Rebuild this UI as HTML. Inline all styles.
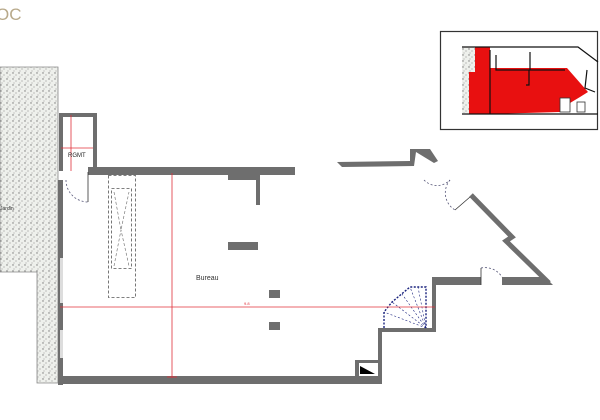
<!DOCTYPE html>
<html><head><style>html,body{margin:0;padding:0;background:#fff;width:600px;height:420px;overflow:hidden}</style></head>
<body>
<svg width="600" height="420" xmlns="http://www.w3.org/2000/svg" font-family="Liberation Sans, sans-serif">
<defs>
<pattern id="sp" width="6" height="6" patternUnits="userSpaceOnUse">
<rect width="6" height="6" fill="#eef0ec"/>
<circle cx="1" cy="1" r="0.7" fill="#777"/><circle cx="4" cy="3" r="0.6" fill="#999"/><circle cx="2" cy="5" r="0.5" fill="#888"/>
</pattern>
</defs>
<text x="-4" y="20" font-size="17" fill="#b8a98a" font-family="Liberation Sans Narrow, Liberation Sans, sans-serif">OC</text>
<polygon points="0,67 58,67 58,383 37,383 37,272 0,272" fill="url(#sp)" stroke="#888" stroke-width="0.8"/>
<text x="0" y="210" font-size="5" fill="#333">Jardin</text>
<g fill="#6e6e6e">
<rect x="58" y="180" width="5" height="205"/>
<rect x="59" y="113" width="38" height="4"/>
<rect x="59" y="113" width="4" height="58"/>
<rect x="93" y="113" width="4" height="60"/>
<rect x="88" y="167" width="207" height="8"/>
<rect x="228" y="167" width="30" height="13"/>
<rect x="256" y="170" width="4" height="35"/>
<rect x="58" y="376" width="324" height="8"/>
<rect x="378" y="328" width="4" height="56"/>
<rect x="378" y="328" width="58" height="4"/>
<rect x="432" y="277" width="4" height="55"/>
<rect x="432" y="277" width="49" height="8"/>
<polygon points="502,277 545,277 553,285 502,285"/>
<polygon points="337,162 410,161 410,149 430,149 438,161 434,163 416,152 414,166 342,167"/>
<rect x="228" y="242" width="30" height="8"/>
<rect x="269" y="290" width="11" height="8"/>
<rect x="269" y="322" width="11" height="8"/>
<rect x="355" y="360" width="4" height="16"/>
<rect x="355" y="360" width="25" height="3"/>
</g>
<polyline points="471,195 512,237 506,241 549,283" fill="none" stroke="#6e6e6e" stroke-width="5" stroke-linejoin="miter"/>
<polygon points="360,366 375,374 360,374" fill="#000"/>
<rect x="60" y="258" width="3" height="45" fill="#ddd"/>
<rect x="60" y="330" width="3" height="28" fill="#ddd"/>
<g fill="none" stroke="#557" stroke-width="0.8" stroke-dasharray="2,2">
<path d="M66,180 A22,22 0 0 0 88,202"/>
<path d="M481,268 A20,20 0 0 1 502,277"/>
<path d="M424,180 A18,18 0 0 0 450,180"/>
<path d="M450,180 A20,20 0 0 0 455,210"/>
</g>
<path d="M481,268 V285 M88,172 V202 M455,210 L470,197" stroke="#333" stroke-width="0.8" fill="none"/>
<g fill="none" stroke="#1a237e" stroke-width="1.4" stroke-dasharray="2,1.5">
<polyline points="384,328 384,312 392,302 410,287 426,287 426,328"/>
</g>
<g stroke="#1a237e" stroke-width="0.6" stroke-dasharray="2,2">
<line x1="426" y1="328" x2="384" y2="312"/><line x1="426" y1="328" x2="392" y2="302"/>
<line x1="426" y1="328" x2="402" y2="294"/><line x1="426" y1="328" x2="410" y2="287"/>
<line x1="426" y1="328" x2="418" y2="287"/>
</g>
<rect x="108.5" y="175.5" width="27" height="122" fill="none" stroke="#555" stroke-width="0.8" stroke-dasharray="3,2"/>
<rect x="111.5" y="188.5" width="20" height="80" fill="none" stroke="#555" stroke-width="0.8" stroke-dasharray="3,2"/>
<path d="M114,192 L121,230 L129,192 M114,266 L121,230 L129,266" fill="none" stroke="#666" stroke-width="0.6" stroke-dasharray="3,2"/>
<g stroke="#e0303a" stroke-width="0.8" fill="none">
<line x1="60" y1="307" x2="435" y2="307"/>
<line x1="172" y1="173" x2="172" y2="378"/>
<line x1="71" y1="115" x2="71" y2="171"/>
<line x1="61" y1="148" x2="93" y2="148"/>
<line x1="167" y1="377" x2="177" y2="377"/>
</g>
<text x="196" y="280" font-size="7" fill="#333">Bureau</text>
<text x="68" y="157" font-size="6" fill="#222">RGMT</text>
<text x="244" y="305" font-size="4" fill="#e0303a">9.8</text>
<rect x="440.5" y="31.5" width="157" height="98" fill="#fff" stroke="#333" stroke-width="1.2"/>
<rect x="462" y="47" width="14" height="66" fill="url(#sp)"/>
<polygon points="475,47 490,47 490,68 567,68 588,92 580,97 570,103 560,112 490,114 469,114 469,72 475,72" fill="#e81010"/>
<g stroke="#111" stroke-width="1.2" fill="none">
<polyline points="462,47 578,47 598,62"/>
<line x1="462" y1="114" x2="598" y2="114"/>
<line x1="490" y1="50" x2="490" y2="114"/>
<polyline points="496,55 496,70 565,70"/>
<line x1="530" y1="52" x2="530" y2="70"/>
<polyline points="529,70 529,85 526,85"/>
<polyline points="587,70 585,88 595,92"/>
</g>
<rect x="560" y="98" width="10" height="14" fill="#fff" stroke="#333" stroke-width="0.8"/>
<rect x="577" y="102" width="8" height="10" fill="#fff" stroke="#333" stroke-width="0.8"/>
</svg>
</body></html>
